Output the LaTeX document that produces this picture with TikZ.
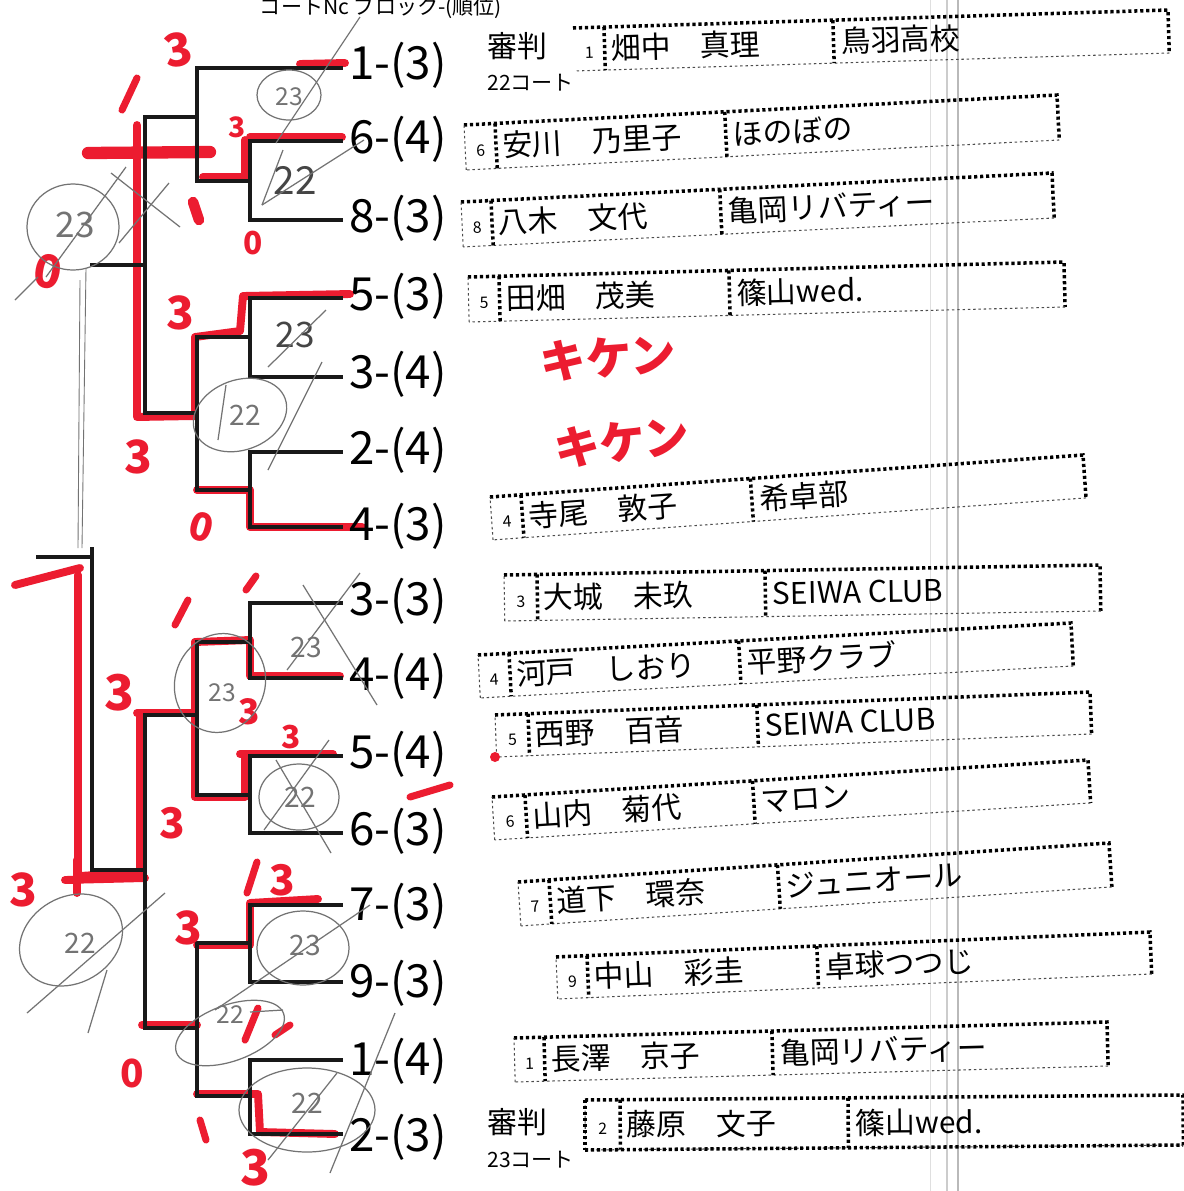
\documentclass[tikz,border=0pt]{standalone}
\usepackage{fontspec}
\setmainfont{Noto Sans CJK JP}
\usetikzlibrary{calc}
\definecolor{hred}{RGB}{236,28,48}
\definecolor{pencil}{RGB}{115,115,115}
\begin{document}
\begin{tikzpicture}[x=0.02cm,y=-0.02cm,
 br/.style={line width=2.6pt, line cap=rect, black!90},
 redtr/.style={draw=hred, line width=4.5pt, line cap=round, line join=round},
 redst/.style={draw=hred, line width=4pt, line cap=round},
 rnum/.style={text=hred, font=\bfseries\fontsize{26}{26}\selectfont, inner sep=0pt},
 pen/.style={draw=pencil, line width=0.7pt},
 pnum/.style={text=pencil, font=\fontsize{15}{15}\selectfont, inner sep=0pt},
 lab/.style={anchor=west, inner sep=0pt, font=\fontsize{26}{28}\selectfont},
 nametxt/.style={inner sep=0pt, font=\fontsize{17}{17}\selectfont},
 seedtxt/.style={inner sep=0pt, font=\fontsize{9}{9}\selectfont},
 thickdots/.style={line width=2pt, dash pattern=on 1.8pt off 1.6pt},
 thindots/.style={line width=0.6pt, dash pattern=on 1.4pt off 1.6pt, black!70},
]
\useasboundingbox (0,0) rectangle (1184,1191);
\fill[white] (0,0) rectangle (1184,1191);

% scanner lines
\draw[gray!25, line width=0.5pt] (930,0) -- (930,1191);
\draw[gray!40, line width=0.6pt] (947,0) -- (947,1191);
\draw[gray!55, line width=1.6pt] (958,0) -- (958,1191);

% header
\node[font=\fontsize{12}{12}\selectfont, inner sep=0pt] (hdr) at (381,8) {コートNc ブロック-(順位)};

% ---------- red traces (under black) ----------
\draw[redtr] (300,64) -- (345,63);
\draw[redtr] (250,137) -- (342,137);
\draw[redtr] (245,140) -- (245,177) -- (203,177);
\draw[redtr, line width=7pt] (88,153) -- (210,152);
\draw[redtr] (137,125) -- (137,417) -- (195,416);
\draw[redtr] (195,415) -- (195,337) -- (240,331) -- (243,296) -- (350,294);
\draw[redtr] (197,490) -- (250,490) -- (250,527) -- (362,527);
\draw[redtr] (15,585) -- (80,568);
\draw[redtr] (78,575) -- (78,880);
\draw[redtr] (140,715) -- (140,872) -- (80,876);
\draw[redtr] (137,713) -- (195,713);
\draw[redtr] (195,642) -- (195,797);
\draw[redtr] (195,642) -- (250,640) -- (250,676) -- (340,676);
\draw[redtr] (240,754) -- (333,754);
\draw[redtr] (245,754) -- (245,797) -- (197,797);
\draw[redtr] (65,880) -- (145,878);
\draw[redtr] (77,860) -- (77,893);
\draw[redtr] (250,943) -- (250,903) -- (318,899);
\draw[redtr] (197,945) -- (250,945);
\draw[redtr] (142,1025) -- (197,1025);
\draw[redtr] (197,1094) -- (258,1094) -- (260,1132) -- (335,1134);

% ---------- bracket ----------
\foreach \i/\x/\y in {1/197/68, 2/250/141, 3/250/220, 4/250/298, 5/250/377, 6/250/452, 7/250/527, 8/250/603, 9/250/678, 10/250/756, 11/250/833, 12/250/905, 13/250/982, 14/250/1060, 15/250/1134}{
  \coordinate (s\i) at (\x,\y);
  \coordinate (t\i) at (341,\y);
  \draw[br] (s\i) -- (t\i);
}
\coordinate (m23) at (197,181);
\coordinate (m1) at (145,117);
\coordinate (m45) at (197,337);
\coordinate (m67) at (197,490);
\coordinate (m47) at (145,413);
\coordinate (mt) at (92,265);
\coordinate (m89) at (197,642);
\coordinate (m1011) at (197,795);
\coordinate (m811) at (145,715);
\coordinate (m1213) at (197,943);
\coordinate (m1415) at (197,1096);
\coordinate (m1215) at (145,1028);
\coordinate (mb) at (92,870);
\coordinate (fin) at (92,549);
\coordinate (win) at (38,557);

\draw[br] (s2) -- (s3);  \draw[br] (m23) -- (m23 -| s2);
\draw[br] (s1) -- (m23); \draw[br] (m1) -- (m1 -| s1);
\draw[br] (s4) -- (s5);  \draw[br] (m45) -- (m45 -| s4);
\draw[br] (s6) -- (s7);  \draw[br] (m67) -- (m67 -| s6);
\draw[br] (m45) -- (m67); \draw[br] (m47) -- (m47 -| m45);
\draw[br] (m1) -- (m47);  \draw[br] (mt) -- (mt -| m1);
\draw[br] (s8) -- (s9);   \draw[br] (m89) -- (m89 -| s8);
\draw[br] (s10) -- (s11); \draw[br] (m1011) -- (m1011 -| s10);
\draw[br] (m89) -- (m1011); \draw[br] (m811) -- (m811 -| m89);
\draw[br] (s12) -- (s13); \draw[br] (m1213) -- (m1213 -| s12);
\draw[br] (s14) -- (s15); \draw[br] (m1415) -- (m1415 -| s14);
\draw[br] (m1213) -- (m1415); \draw[br] (m1215) -- (m1215 -| m1213);
\draw[br] (m811) -- (m1215); \draw[br] (mb) -- (mb -| m811);
\draw[br] (fin) -- (mb);
\draw[br] (win) -- (win -| fin);
\draw[pen, line width=0.5pt] (86,268) -- (82,548);
\draw[pen, line width=0.5pt] (80,280) -- (78,548);

% ---------- bracket labels ----------
\foreach \t/\y [count=\i] in {1-(3)/65, 6-(4)/139, 8-(3)/218, 5-(3)/296, 3-(4)/374, 2-(4)/450, 4-(3)/526, 3-(3)/601, 4-(4)/676, 5-(4)/754, 6-(3)/831, 7-(3)/906, 9-(3)/983, 1-(4)/1061, 2-(3)/1137}{
  \node[lab] (l\i) at (349,\y) {\t};
}

% ---------- entry boxes ----------
\foreach \xl/\ytl/\xr/\ytr/\h/\da/\db/\sd/\nm/\cl [count=\i] in {
573/28/1168/10/43/604/833/1/畑中　真理/鳥羽高校,
464/125/1057/95/45/495/725/6/安川　乃里子/ほのぼの,
461/202/1052/173/45/491/720/8/八木　文代/亀岡リバティー,
468/277/1064/262/45/499/729/5/田畑　茂美/篠山wed.,
490/497/1083/455/43/521/751/4/寺尾　敦子/希卓部,
504/575/1100/565/46/537/765/3/大城　未玖/{SEIWA CLUB},
478/655/1071/623/43/509/739/4/河戸　しおり/平野クラブ,
495/715/1090/692/42/528/757/5/西野　百音/{SEIWA CLUB},
492/797/1088/760/43/525/753/6/山内　菊代/マロン,
518/882/1109/843/44/549/778/7/道下　環奈/ジュニオール,
556/957/1150/932/42/587/817/9/中山　彩圭/卓球つつじ,
514/1038/1107/1022/44/544/772/1/長澤　京子/亀岡リバティー,
585/1100/1183/1095/50/620/848/2/藤原　文子/篠山wed.}{
  \pgfmathsetmacro\ang{atan2(\ytl-\ytr,\xr-\xl)}
  \pgfmathsetmacro\w{veclen(\xr-\xl,\ytl-\ytr)}
  \pgfmathsetmacro\pa{\da-\xl}
  \pgfmathsetmacro\pb{\db-\xl}
  \begin{scope}[shift={(\xl,\ytl)}, rotate=\ang]
    \draw[thickdots] (0,0) -- (\w,0) -- (\w,\h);
    \draw[thindots] (\w,\h) -- (0,\h);
    \ifnum\i>1 \draw[thindots] (0,\h) -- (0,0); \fi
    \draw[thickdots] (\pa,0) -- (\pa,\h);
    \draw[thickdots] (\pb,0) -- (\pb,\h);
    \node[seedtxt, transform shape] (seed\i) at ({\pa/2},{\h/2+4}) {\sd};
    \node[nametxt, transform shape, anchor=west] (name\i) at ({\pa+6},{\h/2}) {\nm};
    \node[nametxt, transform shape, anchor=west] (club\i) at ({\pb+7},{\h/2}) {\cl};
  \end{scope}
}
\draw[thickdots] (585,1150) -- (1183,1145);
\draw[thickdots] (585,1100) -- (585,1150);

% referee notes
\node[nametxt, anchor=west] (ref1) at (487,46) {審判};
\node[anchor=west, inner sep=0pt, font=\fontsize{12}{12}\selectfont] (ct1) at (487,83) {22コート};
\node[nametxt, anchor=west] (ref2) at (487,1122) {審判};
\node[anchor=west, inner sep=0pt, font=\fontsize{12}{12}\selectfont] (ct2) at (487,1160) {23コート};

% ---------- red handwriting ----------
\node[rnum, rotate=10] (r1) at (178,50) {3};
\draw[redst] (122,110) -- (137,78);
\node[rnum, font=\bfseries\fontsize{16}{16}\selectfont] (r2) at (237,127) {3};
\node[rnum, font=\bfseries\fontsize{18}{18}\selectfont] (r3) at (253,243) {0};
\draw[redst, line width=6pt] (193,202) -- (199,220);
\node[rnum, rotate=-10] (r4) at (48,272) {0};
\node[rnum] (r5) at (180,313) {3};
\node[rnum] (r6) at (138,457) {3};
\node[rnum, font=\bfseries\fontsize{22}{22}\selectfont, rotate=-15] (r7) at (201,527) {0};
\draw[redst] (175,625) -- (188,600);
\draw[redst] (246,590) -- (256,576);
\node[rnum, font=\bfseries\fontsize{28}{28}\selectfont] (r8) at (119,693) {3};
\node[rnum, font=\bfseries\fontsize{20}{20}\selectfont] (r9) at (249,712) {3};
\node[rnum, font=\bfseries\fontsize{18}{18}\selectfont] (r10) at (291,737) {3};
\node[rnum, font=\bfseries\fontsize{24}{24}\selectfont] (r11) at (172,823) {3};
\node[rnum] (r12) at (23,890) {3};
\draw[redst] (247,893) -- (257,862);
\node[rnum, font=\bfseries\fontsize{24}{24}\selectfont] (r13) at (282,880) {3};
\node[rnum] (r14) at (188,928) {3};
\draw[redst] (245,1040) -- (258,1008);
\draw[redst] (275,1035) -- (290,1025);
\node[rnum, font=\bfseries\fontsize{22}{22}\selectfont] (r15) at (132,1073) {0};
\draw[redst] (200,1120) -- (206,1140);
\node[rnum, font=\bfseries\fontsize{28}{28}\selectfont] (r16) at (255,1168) {3};
\node[text=hred, font=\bfseries\fontsize{26}{26}\selectfont, inner sep=0pt, rotate=4] (k1) at (608,358) {キケン};
\node[text=hred, font=\bfseries\fontsize{26}{26}\selectfont, inner sep=0pt, rotate=6] (k2) at (622,442) {キケン};
\draw[redst] (410,797) -- (450,785);
\fill[hred] (495,757) circle [radius=5];

% ---------- pencil marks ----------
\draw[pen] (289,95) ellipse [x radius=32, y radius=25];
\node[pnum, font=\fontsize{14}{14}\selectfont] (p1) at (289,97) {23};
\draw[pen] (360,17) -- (276,143);
\node[pnum, text=pencil!60!black, font=\fontsize{22}{22}\selectfont] (p2) at (295,180) {22};
\draw[pen] (364,140) -- (262,205);
\draw[pen] (283,150) -- (262,205);
\draw[pen] (73,227) ellipse [x radius=46, y radius=43];
\node[pnum, font=\fontsize{20}{20}\selectfont] (p3) at (75,225) {23};
\draw[pen] (126,167) -- (46,277);
\draw[pen] (111,173) -- (180,227);
\draw[pen] (169,183) -- (119,243);
\draw[pen] (38,277) -- (15,300);
\node[pnum, text=pencil!60!black, font=\fontsize{20}{20}\selectfont] (p4) at (295,335) {23};
\draw[pen] (326,310) -- (268,367);
\draw[pen, rotate around={20:(240,415)}] (240,415) ellipse [x radius=48, y radius=35];
\node[pnum, font=\fontsize{16}{16}\selectfont] (p5) at (245,415) {22};
\draw[pen] (226,385) -- (218,440);
\draw[pen] (268,470) -- (322,362);
\draw[pen] (303,585) -- (377,705);
\draw[pen] (360,573) -- (287,670);
\node[pnum, font=\fontsize{16}{16}\selectfont] (p6) at (306,647) {23};
\draw[pen, rotate around={-20:(220,683)}] (220,683) ellipse [x radius=45, y radius=50];
\node[pnum, font=\fontsize{14}{14}\selectfont] (p7) at (222,693) {23};
\draw[pen] (299,797) ellipse [x radius=40, y radius=33];
\node[pnum, font=\fontsize{16}{16}\selectfont] (p8) at (300,797) {22};
\draw[pen] (329,740) -- (264,830);
\draw[pen] (276,760) -- (331,853);
\draw[pen, rotate around={30:(71,940)}] (71,940) ellipse [x radius=54, y radius=43];
\node[pnum, font=\fontsize{16}{16}\selectfont] (p9) at (80,943) {22};
\draw[pen] (165,893) -- (27,1013);
\draw[pen] (107,970) -- (88,1033);
\draw[pen] (303,948) ellipse [x radius=46, y radius=37];
\node[pnum, font=\fontsize{16}{16}\selectfont] (p10) at (305,945) {23};
\draw[pen] (370,905) -- (215,1010);
\draw[pen, rotate around={20:(230,1033)}] (230,1033) ellipse [x radius=57, y radius=28];
\node[pnum, font=\fontsize{14}{14}\selectfont] (p11) at (230,1015) {22};
\draw[pen] (283,1010) -- (250,1012);
\draw[pen] (307,1110) ellipse [x radius=68, y radius=42];
\node[pnum, font=\fontsize{16}{16}\selectfont] (p12) at (307,1103) {22};
\draw[pen] (395,1013) -- (330,1173);
\draw[pen] (337,1073) -- (268,1160);
\end{tikzpicture}
\end{document}
